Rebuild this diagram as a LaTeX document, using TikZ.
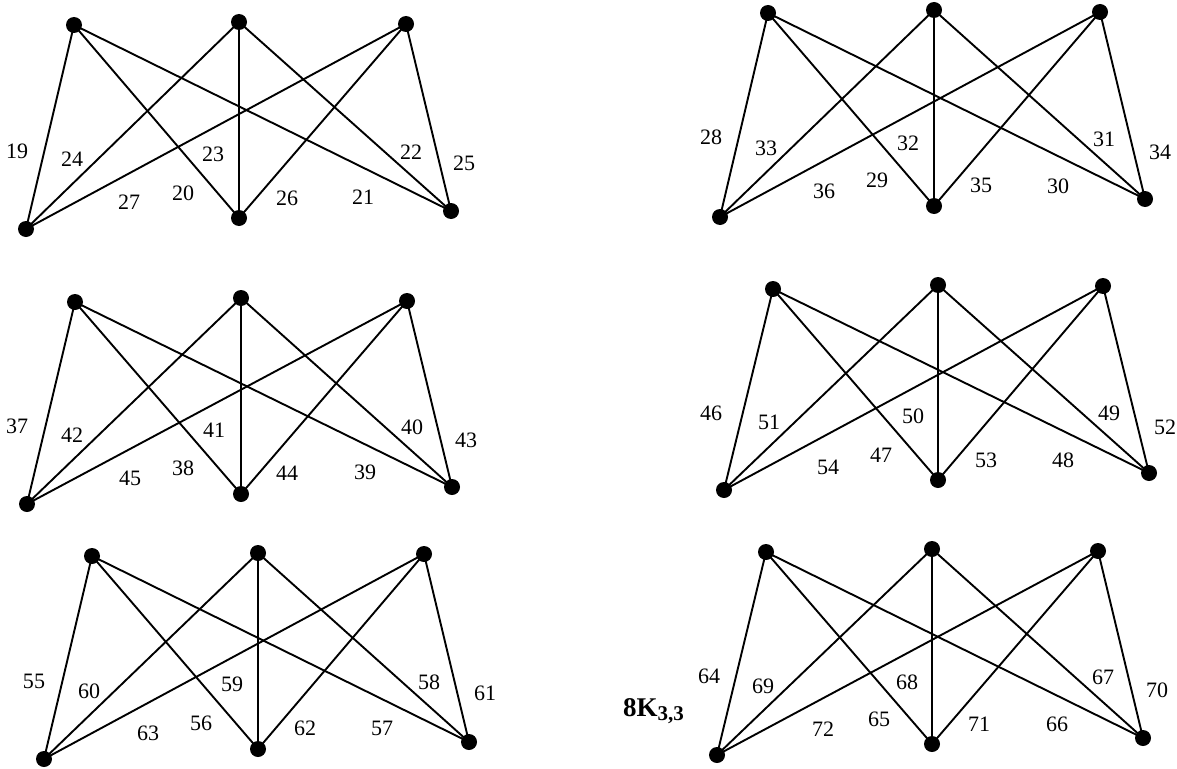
\documentclass[tikz,border=0pt]{standalone}
\usepackage{fontspec}
\setmainfont{Liberation Serif}
\tikzset{
  vtx/.style={circle,fill=black,inner sep=0pt,minimum size=16pt},
  edge/.style={line width=1.9pt},
  lbl/.style={inner sep=0pt,font=\fontsize{22}{24}\selectfont}
}
\newcommand\KGraph[7]{%
  \node[vtx] (#1t1) at #2 {};
  \node[vtx] (#1t2) at #3 {};
  \node[vtx] (#1t3) at #4 {};
  \node[vtx] (#1b1) at #5 {};
  \node[vtx] (#1b2) at #6 {};
  \node[vtx] (#1b3) at #7 {};
  \foreach \i in {1,2,3}{\foreach \j in {1,2,3}{\draw[edge] (#1t\i.center) -- (#1b\j.center);}}%
}
\begin{document}
\begin{tikzpicture}[x=1pt,y=-1pt]
\useasboundingbox (0,0) rectangle (1177,768);
% graph 1
\KGraph{a}{(74,25)}{(239,22)}{(406,24)}{(26,229)}{(239,218)}{(451,211)}
\node[lbl] (a19) at (17,151) {19};
\node[lbl] (a24) at (72,159) {24};
\node[lbl] (a23) at (213,154) {23};
\node[lbl] (a22) at (411,152) {22};
\node[lbl] (a25) at (464,163) {25};
\node[lbl] (a27) at (129,202) {27};
\node[lbl] (a20) at (183,193) {20};
\node[lbl] (a26) at (287,198) {26};
\node[lbl] (a21) at (363,197) {21};
% graph 2
\KGraph{b}{(768,13)}{(934,10)}{(1100,12)}{(720,217)}{(934,206)}{(1145,199)}
\node[lbl] (b28) at (711,137) {28};
\node[lbl] (b33) at (766,148) {33};
\node[lbl] (b32) at (908,143) {32};
\node[lbl] (b31) at (1104,139) {31};
\node[lbl] (b34) at (1160,152) {34};
\node[lbl] (b36) at (824,191) {36};
\node[lbl] (b29) at (877,180) {29};
\node[lbl] (b35) at (981,185) {35};
\node[lbl] (b30) at (1058,186) {30};
% graph 3
\KGraph{c}{(75,302)}{(241,298)}{(407,301)}{(27,504)}{(241,494)}{(452,487)}
\node[lbl] (c37) at (17,426) {37};
\node[lbl] (c42) at (72,435) {42};
\node[lbl] (c41) at (214,430) {41};
\node[lbl] (c40) at (412,427) {40};
\node[lbl] (c43) at (466,440) {43};
\node[lbl] (c45) at (130,478) {45};
\node[lbl] (c38) at (183,468) {38};
\node[lbl] (c44) at (287,473) {44};
\node[lbl] (c39) at (365,472) {39};
% graph 4
\KGraph{d}{(773,289)}{(938,285)}{(1103,286)}{(724,490)}{(938,480)}{(1149,473)}
\node[lbl] (d46) at (711,413) {46};
\node[lbl] (d51) at (769,422) {51};
\node[lbl] (d50) at (913,416) {50};
\node[lbl] (d49) at (1109,413) {49};
\node[lbl] (d52) at (1165,427) {52};
\node[lbl] (d54) at (828,467) {54};
\node[lbl] (d47) at (881,455) {47};
\node[lbl] (d53) at (986,460) {53};
\node[lbl] (d48) at (1063,460) {48};
% graph 5
\KGraph{e}{(92,556)}{(258,553)}{(424,554)}{(44,759)}{(258,749)}{(469,742)}
\node[lbl] (e55) at (34,681) {55};
\node[lbl] (e60) at (89,691) {60};
\node[lbl] (e59) at (232,684) {59};
\node[lbl] (e58) at (429,682) {58};
\node[lbl] (e61) at (485,693) {61};
\node[lbl] (e63) at (148,733) {63};
\node[lbl] (e56) at (201,723) {56};
\node[lbl] (e62) at (305,728) {62};
\node[lbl] (e57) at (382,728) {57};
% graph 6
\KGraph{f}{(766,552)}{(932,549)}{(1098,551)}{(717,755)}{(932,744)}{(1143,738)}
\node[lbl] (f64) at (709,676) {64};
\node[lbl] (f69) at (763,686) {69};
\node[lbl] (f68) at (907,682) {68};
\node[lbl] (f67) at (1103,677) {67};
\node[lbl] (f70) at (1157,690) {70};
\node[lbl] (f72) at (823,729) {72};
\node[lbl] (f65) at (879,719) {65};
\node[lbl] (f71) at (979,724) {71};
\node[lbl] (f66) at (1057,724) {66};
\node[inner sep=0pt,anchor=base west,font=\fontsize{27}{29}\selectfont\bfseries] (title) at (623,716) {8K\raisebox{-4pt}{\fontsize{21}{22}\selectfont 3,3}};
\end{tikzpicture}
\end{document}
